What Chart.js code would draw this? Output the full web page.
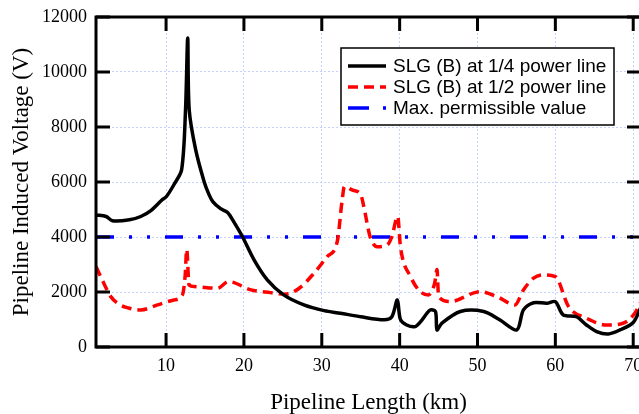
<!DOCTYPE html>
<html>
<head>
<meta charset="utf-8">
<script src="https://cdn.jsdelivr.net/npm/chart.js@4/dist/chart.umd.min.js"></script>
<style>
  html, body { margin: 0; padding: 0; background: #fff; overflow: hidden; }
  #wrap { width: 645px; height: 414px; }
</style>
</head>
<body>
<div id="wrap"><canvas id="chart" width="645" height="414"></canvas></div>
<script>
// values
const seriesNames = ['SLG (B) at 1/4 power line', 'SLG (B) at 1/2 power line', 'Max. permissible value'];

const kmQuarter = [1, 2.3, 3.1, 5.3, 6.75, 8, 9.5, 10.05, 11, 12, 12.5, 12.78, 12.97, 13.8, 14.9, 15.5, 16, 17,
  17.9, 18.7, 19.8, 21.3, 23, 25.1, 27.7, 30.3, 32.4, 35, 38, 39, 39.7, 40.1, 40.9, 42, 42.7, 43.9, 44.6, 44.8,
  45.4, 47.8, 50.8, 52.9, 55.05, 55.9, 57.2, 58.9, 60, 61, 62.7, 64, 65.3, 66.8, 68.3, 70, 71];
const vQuarter = [4800, 4745, 4590, 4625, 4745, 4950, 5353, 5473, 5900, 6450, 8630, 11240, 8630, 7174, 6000,
  5550, 5290, 5030, 4890, 4550, 4017, 3168, 2440, 1894, 1530, 1322, 1227, 1100, 990, 1100, 1710, 1000, 800, 740,
  920, 1340, 1290, 620, 860, 1290, 1290, 980, 620, 1350, 1610, 1590, 1650, 1170, 1100, 800, 560, 470, 620, 890, 1450];

const kmHalf = [1, 2, 2.9, 4, 5, 6.75, 8.9, 11, 12.1, 12.45, 12.65, 12.95, 13.6, 16.6, 18, 20.9, 23.4, 25.3,
  27.1, 29, 30.7, 32, 32.6, 32.9, 34, 35, 35.4, 36.2, 37.1, 38.4, 39, 39.75, 40.1, 41.4, 42.65, 43.7, 44.5, 44.8,
  45, 46.5, 50.3, 52.5, 54.8, 55.9, 57.2, 58.5, 60, 61.7, 64, 66.6, 68.7, 70.2, 71];
const vHalf = [2925, 2320, 1832, 1550, 1432, 1347, 1530, 1711, 1894, 2600, 3550, 2258, 2196, 2137, 2378, 2076,
  1977, 1920, 2137, 2684, 3288, 3850, 5300, 5830, 5700, 5550, 5100, 4017, 3650, 3710, 4017, 4745, 3650, 2560,
  2014, 1894, 2320, 2815, 1832, 1650, 2014, 1832, 1530, 2076, 2502, 2622, 2560, 1468, 1045, 801, 863, 1227, 1650];

const kmLimit = [1, 71];
const vLimit = [4000, 4000];

const xTicks = [10, 20, 30, 40, 50, 60, 70];
const yTicks = [0, 2000, 4000, 6000, 8000, 10000, 12000];

function toPoints(xs, ys) {
  return xs.map((x, i) => ({ x: x, y: ys[i] }));
}

const serif = '"Liberation Serif", "Times New Roman", serif';
const sans = '"Liberation Sans", Arial, sans-serif';

const styles = [
  { color: '#000000', width: 3.5, dash: [], mode: 'default', tension: 0.3 },
  { color: '#ff0000', width: 3.5, dash: [10, 6], mode: 'monotone', tension: 0 },
  { color: '#0000ff', width: 3.5, dash: [18, 15, 3, 15, 3, 15], mode: 'default', tension: 0 }
];

// frame with inward ticks on all four sides, plus the boxed legend
const framePlugin = {
  id: 'frame',
  afterDatasetsDraw(chart) {
    const { ctx, chartArea: a, scales: { x, y } } = chart;
    ctx.save();
    ctx.strokeStyle = '#000';
    ctx.lineWidth = 3;
    ctx.setLineDash([]);
    ctx.strokeRect(a.left, a.top, a.right - a.left, a.bottom - a.top);

    const tick = 14;
    ctx.beginPath();
    xTicks.forEach(v => {
      const px = x.getPixelForValue(v);
      ctx.moveTo(px, a.bottom); ctx.lineTo(px, a.bottom - tick);
      ctx.moveTo(px, a.top); ctx.lineTo(px, a.top + tick);
    });
    yTicks.forEach(v => {
      const py = y.getPixelForValue(v);
      ctx.moveTo(a.left, py); ctx.lineTo(a.left + tick, py);
      ctx.moveTo(a.right, py); ctx.lineTo(a.right - tick, py);
    });
    ctx.stroke();

    // legend
    const bx = a.right - 300, by = a.top + 31, bw = 273, bh = 77;
    ctx.fillStyle = '#fff';
    ctx.fillRect(bx, by, bw, bh);
    ctx.lineWidth = 1.5;
    ctx.strokeRect(bx, by, bw, bh);
    ctx.font = '19px ' + sans;
    ctx.textBaseline = 'middle';
    ctx.textAlign = 'left';
    seriesNames.forEach((name, i) => {
      const ry = by + 18 + i * 21;
      const s = styles[i];
      ctx.strokeStyle = s.color;
      ctx.lineWidth = s.width;
      ctx.setLineDash(i === 2 ? [21, 14, 3, 100] : s.dash);
      ctx.beginPath();
      ctx.moveTo(bx + 7, ry);
      ctx.lineTo(bx + 45, ry);
      ctx.stroke();
      ctx.fillStyle = '#000';
      ctx.fillText(name, bx + 52, ry + 1);
    });
    ctx.restore();
  }
};

const datasets = [
  toPoints(kmQuarter, vQuarter),
  toPoints(kmHalf, vHalf),
  toPoints(kmLimit, vLimit)
].map((pts, i) => ({
  label: seriesNames[i],
  data: pts,
  borderColor: styles[i].color,
  borderWidth: styles[i].width,
  borderDash: styles[i].dash,
  borderJoinStyle: 'round',
  pointRadius: 0,
  fill: false,
  cubicInterpolationMode: styles[i].mode,
  tension: styles[i].tension
}));

const ctx = document.getElementById('chart').getContext('2d');
new Chart(ctx, {
  type: 'line',
  data: { datasets: datasets },
  options: {
    responsive: false,
    animation: false,
    layout: { padding: { top: 17, right: 4, left: 0, bottom: 0 } },
    plugins: { legend: { display: false }, tooltip: { enabled: false } },
    scales: {
      x: {
        type: 'linear',
        min: 1,
        max: 71,
        afterBuildTicks: s => { s.ticks = xTicks.map(v => ({ value: v })); },
        afterFit: s => { s.height = 67; s.paddingLeft = 0; s.paddingRight = 0; },
        grid: { color: '#c5d1ff', lineWidth: 1, drawTicks: false },
        border: { display: false, dash: [2, 2] },
        ticks: { color: '#000', padding: 8, font: { family: serif, size: 18 }, callback: v => String(v) },
        title: {
          display: true, text: 'Pipeline Length (km)', color: '#000',
          font: { family: serif, size: 23, lineHeight: 1 }, padding: { top: 0, bottom: 0 }
        }
      },
      y: {
        min: 0,
        max: 12000,
        afterBuildTicks: s => { s.ticks = yTicks.map(v => ({ value: v })); },
        afterFit: s => { s.width = 96; s.paddingTop = 0; s.paddingBottom = 0; },
        grid: { color: '#c5d1ff', lineWidth: 1, drawTicks: false },
        border: { display: false, dash: [2, 2] },
        ticks: { color: '#000', padding: 9, font: { family: serif, size: 18 }, callback: v => String(v) },
        title: {
          display: true, text: 'Pipeline Induced Voltage (V)', color: '#000',
          font: { family: serif, size: 23, lineHeight: 1 }, padding: { top: 10, bottom: 0 }
        }
      }
    }
  },
  plugins: [framePlugin]
});
</script>
</body>
</html>
